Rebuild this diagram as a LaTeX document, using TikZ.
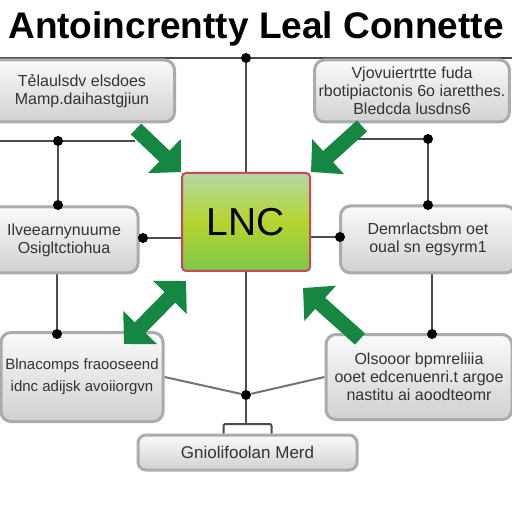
\documentclass[tikz,border=0pt]{standalone}
\usepackage{fontspec}
\setmainfont{Liberation Sans}
\usetikzlibrary{arrows.meta, backgrounds, positioning}
\definecolor{colArrow}{RGB}{22,135,66}
\definecolor{colEdge}{RGB}{205,70,85}
\definecolor{colTop}{RGB}{178,216,165}
\definecolor{colMid}{RGB}{182,212,45}
\definecolor{colBot}{RGB}{125,200,75}
\definecolor{colWire}{RGB}{75,75,75}

\begin{document}
\begin{tikzpicture}[
    x=0.5pt, y=-0.5pt,
    card/.style={draw=black!33, line width=1.5pt, rounded corners=5pt,
      top color=black!2, bottom color=black!18, text=black!80,
      align=center, inner sep=2pt, font=\fontsize{8}{9}\selectfont},
    hubbox/.style={draw=colEdge, line width=1pt, rounded corners=2pt,
      top color=colTop, bottom color=colBot, middle color=colMid,
      font=\fontsize{19.5}{20}\selectfont},
    dot/.style={circle, fill=black, inner sep=0pt, minimum size=5pt},
    wire/.style={draw=colWire, line width=1pt},
    bigarrow/.style={colArrow, line width=7.5pt, -{Triangle[length=11.5pt, width=23pt]}},
  ]

  \useasboundingbox (0,0) rectangle (512,512);

  % ---- title ------------------------------------------------------------
  \node[font=\bfseries\fontsize{18.5}{20}\selectfont, anchor=base] (title) at (256,39)
       {Antoincrentty Leal Connette};

  % ---- the centre -------------------------------------------------------
  \node[hubbox, minimum width=64pt, minimum height=49pt] (ctr) at (246,222) {LNC};

  % ---- the cards --------------------------------------------------------
  \node[card, minimum width=92.5pt, minimum height=31pt] (tl) at (82,91)
       {Tẻlaulsdv elsdoes\\Mamp.daihastgjiun};
  \node[card, minimum width=97pt, minimum height=31pt] (tr) at (412,91)
       {Vjovuiertrtte fuda\\rbotipiactonis 6o iaretthes.\\Bledcda lusdns6};
  \node[card, minimum width=74pt, minimum height=33pt] (lm) at (64,240)
       {Ilveearnynuume\\Osigltctiohua};
  \node[card, minimum width=87.5pt, minimum height=33.5pt] (rm) at (428,239.5)
       {Demrlactsbm oet\\oual sn egsyrm1};
  \node[card, minimum width=81pt, minimum height=44.5pt,
        font=\fontsize{7.5}{11}\selectfont] (bl) at (82,377)
       {Blnacomps fraooseend\\idnc adijsk avoiiorgvn};
  \node[card, minimum width=93pt, minimum height=42.5pt] (br) at (419,377)
       {Olsooor bpmreliiia\\ooet edcenuenri.t argoe\\nastitu ai aoodteomr};
  \node[card, rounded corners=4pt, minimum width=109.5pt, minimum height=17.5pt,
        font=\fontsize{8.5}{9}\selectfont] (bot) at (247.5,452.5) {Gniolifoolan Merd};

  % ---- junctions ----------------------------------------------------------
  \node[dot] (dTop) at (246,58) {};
  \node[dot] (dL1) at (58,141) {};
  \node[dot] (dL2) at (58,205) {};
  \node[dot] (dR1) at (428,139) {};
  \node[dot] (dR2) at (428,205) {};
  \node[dot] (dLm) at (143,238) {};
  \node[dot] (dRm) at (340,237) {};
  \node[dot] (dBl) at (57,334) {};
  \node[dot] (dBr) at (432,334) {};
  \node[dot] (dHub) at (246,395) {};

  \coordinate (railW) at (0,58);
  \coordinate (railE) at (512,58);
  \coordinate (leftW) at (0,141);
  \coordinate (leftE) at (135,141);
  \coordinate (rightW) at (356,139);
  \coordinate (brk) at (246,424);

  % ---- wires (behind everything) ----------------------------------------
  \begin{scope}[on background layer]
    \fill[white] (0,0) rectangle (512,512);
    \draw[wire] (railW) -- (railE);
    \draw[wire] (dTop) -- (ctr.north);
    \draw[wire] (leftW) -- (leftE);
    \draw[wire] (dL1) -- (dL2);
    \draw[wire] (rightW) -- (dR1) -- (dR2);
    \draw[wire] (lm.east |- dLm) -- (dLm) -- (ctr.west |- dLm);
    \draw[wire] (ctr.east |- dRm) -- (dRm) -- (rm.west |- dRm);
    \draw[wire] (dBl |- lm.south) -- (dBl);
    \draw[wire] (dBr |- rm.south) -- (dBr);
    \draw[wire] (ctr.south) -- (dHub) -- (brk);
    \draw[wire, draw=black!55] (bl.east) -- (dHub) -- (br.west);
    \draw[wire, rounded corners=1pt] ([xshift=-12pt]bot.north) |- (brk) -| ([xshift=12pt]bot.north);
  \end{scope}

  % ---- green arrows -------------------------------------------------------
  \coordinate (aTL) at (136,129);
  \coordinate (aTR) at (362,126);
  \coordinate (aBLs) at (124,344);
  \coordinate (aBLe) at (186,281);
  \coordinate (aBR) at (360,339);
  \coordinate (aBRe) at (303,288);

  \draw[bigarrow] (aTL) -- (ctr.north west);
  \draw[bigarrow] (aTR) -- (ctr.north east);
  \draw[bigarrow, {Triangle[length=11.5pt, width=23pt]}-{Triangle[length=11.5pt, width=23pt]}] (aBLs) -- (aBLe);
  \draw[bigarrow] (aBR) -- (aBRe);

\end{tikzpicture}
\end{document}
